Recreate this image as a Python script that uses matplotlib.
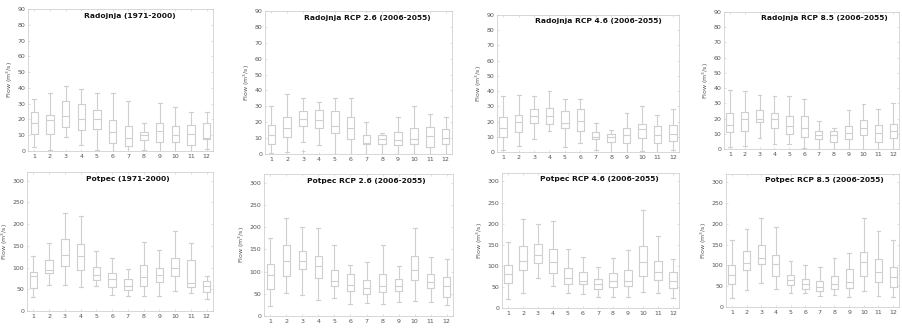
import matplotlib
matplotlib.use("Agg")
import matplotlib.pyplot as plt

months = list(range(1, 13))
month_labels = [str(m) for m in months]

# Each series: lists of (whisker low, Q1, median, Q3, whisker high) per month
rad_hist_lo = [2.5, 0.5, 9, 4, 0.5, 0, 0, 0.5, 0, 0, 0, 1]
rad_hist_q1 = [10.5, 11, 15.5, 13.5, 14, 5, 3, 7, 6, 6, 3.5, 7.5]
rad_hist_med = [18, 19.5, 22, 20.5, 20.5, 12, 8.5, 10, 12.5, 10, 11, 8.5]
rad_hist_q3 = [25, 23, 32, 29.5, 26, 19.5, 16, 12, 18, 16, 16.5, 18]
rad_hist_hi = [33, 36.5, 41.5, 39, 36.5, 36.5, 31.5, 17.5, 30.5, 28, 24.5, 25]

rad_26_lo = [0.5, 1, 7.5, 5.5, 0, 0, 0, 0, 0, 0, 0, 0]
rad_26_q1 = [6.5, 11, 17.5, 16.5, 13.5, 9.5, 6, 6, 5.5, 6, 4.5, 6.5]
rad_26_med = [12, 16.5, 22, 21.5, 17.5, 16.5, 7, 9.5, 9, 9.5, 11.5, 10]
rad_26_q3 = [18, 23, 27, 28, 27, 23.5, 12, 12, 14, 16.5, 17, 15.5]
rad_26_hi = [30.5, 37.5, 35, 33, 35, 35, 20, 13.5, 23.5, 30.5, 25, 23.5]
rad_26_outlier_month = [3]
rad_26_outlier_val = [2]

rad_46_lo = [1, 4, 8.5, 13.5, 3, 6, 1, 0, 0, 0.5, 0, 1]
rad_46_q1 = [10, 13, 19, 18.5, 15.5, 14, 8.5, 6.5, 6, 9.5, 6, 7]
rad_46_med = [16, 20, 23.5, 23.5, 19, 20.5, 10, 10, 11, 15, 11, 11.5]
rad_46_q3 = [23, 24, 28.5, 29, 27, 28, 13, 12, 16, 18.5, 17, 18]
rad_46_hi = [36.5, 37.5, 37, 40, 35, 35, 19, 14.5, 25.5, 30, 24.5, 28.5]

rad_85_lo = [1.5, 2, 7.5, 3.5, 3.5, 0.5, 0, 0, 0, 0, 0, 0]
rad_85_q1 = [11, 11.5, 17.5, 14, 10, 8, 6.5, 4.5, 6.5, 9, 4.5, 7]
rad_85_med = [15.5, 20, 20, 19.5, 15, 13.5, 9.5, 9, 10.5, 13.5, 10.5, 12]
rad_85_q3 = [23.5, 24.5, 25.5, 23.5, 22, 21.5, 12, 12, 15, 19, 15.5, 16.5]
rad_85_hi = [39, 38, 35.5, 35, 35, 33, 18.5, 13.5, 25.5, 29.5, 26, 30]

pot_hist_lo = [33, 60, 59, 55, 57, 36, 34, 34, 34, 45, 41, 28]
pot_hist_q1 = [52, 87, 103, 94, 71, 55, 49, 58, 67, 80, 55, 44]
pot_hist_med = [80, 95, 129, 126, 83, 73, 57, 78, 84, 99, 64, 57]
pot_hist_q3 = [90, 117, 166, 154, 102, 88, 73, 105, 99, 122, 117, 70]
pot_hist_hi = [126, 157, 226, 218, 137, 121, 96, 158, 141, 185, 157, 80]

pot_26_lo = [22, 52, 47, 37, 40, 27, 29, 26, 31, 33, 31, 25]
pot_26_q1 = [60, 91, 105, 85, 67, 56, 50, 53, 56, 82, 62, 43]
pot_26_med = [92, 125, 125, 113, 80, 69, 62, 67, 67, 104, 77, 67]
pot_26_q3 = [118, 160, 147, 136, 104, 95, 82, 95, 84, 136, 95, 89]
pot_26_hi = [175, 221, 201, 199, 160, 116, 121, 159, 113, 199, 134, 128]

pot_46_lo = [22, 36, 71, 52, 35, 33, 27, 26, 26, 39, 35, 23]
pot_46_q1 = [60, 90, 106, 83, 57, 57, 46, 50, 53, 76, 66, 47]
pot_46_med = [80, 111, 125, 110, 71, 63, 57, 64, 65, 108, 85, 64]
pot_46_q3 = [102, 146, 151, 140, 94, 86, 68, 82, 89, 147, 111, 85]
pot_46_hi = [157, 212, 199, 207, 139, 122, 97, 118, 137, 232, 171, 115]

pot_85_lo = [22, 40, 58, 43, 34, 33, 27, 28, 25, 39, 26, 24]
pot_85_q1 = [56, 90, 103, 75, 53, 44, 39, 43, 46, 75, 61, 49]
pot_85_med = [76, 107, 119, 104, 64, 56, 48, 56, 61, 108, 84, 73]
pot_85_q3 = [102, 135, 150, 126, 77, 68, 63, 75, 92, 133, 116, 96]
pot_85_hi = [162, 188, 214, 192, 111, 102, 97, 119, 130, 214, 183, 161]

titles = [
    "Radojnja (1971-2000)", "Radojnja RCP 2.6 (2006-2055)",
    "Radojnja RCP 4.6 (2006-2055)", "Radojnja RCP 8.5 (2006-2055)",
    "Potpec (1971-2000)", "Potpec RCP 2.6 (2006-2055)",
    "Potpec RCP 4.6 (2006-2055)", "Potpec RCP 8.5 (2006-2055)",
]
series = [
    (rad_hist_lo, rad_hist_q1, rad_hist_med, rad_hist_q3, rad_hist_hi),
    (rad_26_lo, rad_26_q1, rad_26_med, rad_26_q3, rad_26_hi),
    (rad_46_lo, rad_46_q1, rad_46_med, rad_46_q3, rad_46_hi),
    (rad_85_lo, rad_85_q1, rad_85_med, rad_85_q3, rad_85_hi),
    (pot_hist_lo, pot_hist_q1, pot_hist_med, pot_hist_q3, pot_hist_hi),
    (pot_26_lo, pot_26_q1, pot_26_med, pot_26_q3, pot_26_hi),
    (pot_46_lo, pot_46_q1, pot_46_med, pot_46_q3, pot_46_hi),
    (pot_85_lo, pot_85_q1, pot_85_med, pot_85_q3, pot_85_hi),
]

W, H = 903, 328
# axes rectangles in pixels: left, top, right, bottom
rects = [
    (28, 9, 213, 151), (265, 11, 452, 154), (497, 15, 679, 152), (724, 12, 899, 149),
    (27, 172, 213, 311), (264, 174, 453, 316), (502, 173, 679, 308), (726, 174, 899, 307),
]
title_x = [0.55, 0.545, 0.555, 0.575, 0.54, 0.54, 0.55, 0.57]

fig = plt.figure(figsize=(W / 100, H / 100), dpi=100)
box_col = "#cfcfcf"
spine_col = "#c8c8c8"
txt_col = "#555555"

for i, (rect, title, s) in enumerate(zip(rects, titles, series)):
    l, t, r, b = rect
    ax = fig.add_axes([l / W, 1 - b / H, (r - l) / W, (b - t) / H])
    lo, q1, med, q3, hi = s
    stats = [dict(whislo=lo[k], q1=q1[k], med=med[k], q3=q3[k], whishi=hi[k], fliers=[])
             for k in range(12)]
    ax.bxp(stats, positions=months, widths=0.48, showfliers=False,
           boxprops=dict(color=box_col, linewidth=0.8),
           whiskerprops=dict(color=box_col, linewidth=0.8, linestyle="-"),
           capprops=dict(color=box_col, linewidth=0.8),
           medianprops=dict(color=box_col, linewidth=0.8),
           capwidths=0.25, manage_ticks=False)
    if i == 1:
        ax.plot(rad_26_outlier_month, rad_26_outlier_val, marker="+", color=box_col,
                markersize=3, linestyle="none", markeredgewidth=0.6)
    ax.set_xlim(0.6, 12.4)
    if i < 4:
        ax.set_ylim(0, 90)
        ax.set_yticks(range(0, 91, 10))
    else:
        ax.set_ylim(0, 320)
        ax.set_yticks(range(0, 301, 50))
    ax.set_xticks(months)
    ax.set_xticklabels(month_labels)
    ax.tick_params(direction="in", length=1.5, width=0.4, labelsize=4.5,
                   colors=spine_col, labelcolor=txt_col, top=True, right=True, pad=2)
    for sp in ax.spines.values():
        sp.set_color(spine_col)
        sp.set_linewidth(0.5)
    ax.set_ylabel("Flow (m$^3$/s)", fontsize=4.5, color=txt_col, labelpad=2)
    ax.text(title_x[i], 0.953, title, transform=ax.transAxes, ha="center", va="center",
            fontsize=5.4, fontweight="bold", color="#111111")

fig.savefig("out.png", dpi=100)
